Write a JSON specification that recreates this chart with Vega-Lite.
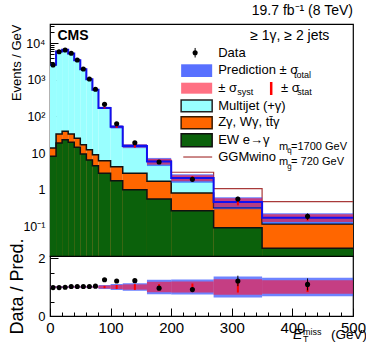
{
"$schema": "https://vega.github.io/schema/vega-lite/v6.json",
"background": "white",
"padding": {"left": 7, "right": 2, "top": 3, "bottom": 2},
"config": {
  "font": "Liberation Sans",
  "view": {"stroke": "black", "strokeWidth": 1.2},
  "axis": {"grid": false, "domain": false, "tickColor": "black", "labelColor": "black", "titleColor": "black", "labelFont": "Liberation Sans", "titleFont": "Liberation Sans", "titleFontWeight": "normal", "labelFlush": false, "labelOverlap": false, "tickWidth": 1},
  "text": {"font": "Liberation Sans", "color": "black"}
},
"datasets": {
  "bins": [
    {"lo":0,"hi":10,"c":5,"data":2550,"dlo":2525,"dhi":2575,"pred":2600,"tlo":2522,"thi":2678,"slo":2548,"shi":2652,"stlo":2574,"sthi":2626,"green":8.2,"orange":13.8,"ggm":2600,"ratio":0.98,"rlo":0.97,"rhi":0.99,"rtlo":0.97,"rthi":1.03,"rslo":0.98,"rshi":1.02,"rstlo":0.99,"rsthi":1.01},
    {"lo":10,"hi":20,"c":15,"data":5900,"dlo":5841,"dhi":5959,"pred":6000,"tlo":5820,"thi":6180,"slo":5880,"shi":6120,"stlo":5940,"sthi":6060,"green":18.9,"orange":33.3,"ggm":6000,"ratio":0.98,"rlo":0.97,"rhi":0.99,"rtlo":0.97,"rthi":1.03,"rslo":0.98,"rshi":1.02,"rstlo":0.99,"rsthi":1.01},
    {"lo":20,"hi":30,"c":25,"data":6570,"dlo":6504,"dhi":6636,"pred":6640,"tlo":6441,"thi":6839,"slo":6507,"shi":6773,"stlo":6574,"sthi":6706,"green":23.2,"orange":39.4,"ggm":6640,"ratio":0.99,"rlo":0.98,"rhi":1.0,"rtlo":0.97,"rthi":1.03,"rslo":0.98,"rshi":1.02,"rstlo":0.99,"rsthi":1.01},
    {"lo":30,"hi":40,"c":35,"data":5330,"dlo":5277,"dhi":5383,"pred":5230,"tlo":5073,"thi":5387,"slo":5125,"shi":5335,"stlo":5178,"sthi":5282,"green":19.7,"orange":33.3,"ggm":5230,"ratio":1.02,"rlo":1.01,"rhi":1.03,"rtlo":0.97,"rthi":1.03,"rslo":0.98,"rshi":1.02,"rstlo":0.99,"rsthi":1.01},
    {"lo":40,"hi":50,"c":45,"data":3500,"dlo":3465,"dhi":3535,"pred":3430,"tlo":3327,"thi":3533,"slo":3361,"shi":3499,"stlo":3396,"sthi":3464,"green":14.4,"orange":25.4,"ggm":3430,"ratio":1.02,"rlo":1.01,"rhi":1.03,"rtlo":0.97,"rthi":1.03,"rslo":0.98,"rshi":1.02,"rstlo":0.99,"rsthi":1.01},
    {"lo":50,"hi":60,"c":55,"data":1985,"dlo":1965,"dhi":2005,"pred":1950,"tlo":1892,"thi":2009,"slo":1911,"shi":1989,"stlo":1931,"sthi":1970,"green":9.4,"orange":17.0,"ggm":1950,"ratio":1.02,"rlo":1.01,"rhi":1.03,"rtlo":0.97,"rthi":1.03,"rslo":0.98,"rshi":1.02,"rstlo":0.99,"rsthi":1.01},
    {"lo":60,"hi":70,"c":65,"data":1060,"dlo":1049,"dhi":1071,"pred":1040,"tlo":1009,"thi":1071,"slo":1019,"shi":1061,"stlo":1030,"sthi":1050,"green":6.5,"orange":12.4,"ggm":1040,"ratio":1.02,"rlo":1.01,"rhi":1.03,"rtlo":0.97,"rthi":1.03,"rslo":0.98,"rshi":1.02,"rstlo":0.99,"rsthi":1.01},
    {"lo":70,"hi":80,"c":75,"data":553,"dlo":547,"dhi":559,"pred":537,"tlo":521,"thi":553,"slo":526,"shi":548,"stlo":532,"sthi":542,"green":4.5,"orange":9.0,"ggm":537,"ratio":1.03,"rlo":1.02,"rhi":1.04,"rtlo":0.97,"rthi":1.03,"rslo":0.98,"rshi":1.02,"rstlo":0.99,"rsthi":1.01},
    {"lo":80,"hi":100,"c":90,"data":215,"dlo":210.7,"dhi":219.3,"pred":172,"tlo":160,"thi":184,"slo":163.4,"shi":180.6,"stlo":165.1,"sthi":178.9,"green":2.8,"orange":6.2,"ggm":172,"ratio":1.25,"rlo":1.225,"rhi":1.275,"rtlo":0.93,"rthi":1.07,"rslo":0.95,"rshi":1.05,"rstlo":0.96,"rsthi":1.04},
    {"lo":100,"hi":120,"c":110,"data":63.5,"dlo":61.6,"dhi":65.4,"pred":52.5,"tlo":47.25,"thi":57.75,"slo":48.8,"shi":56.2,"stlo":48.8,"sthi":56.2,"green":1.76,"orange":4.25,"ggm":52.5,"ratio":1.21,"rlo":1.174,"rhi":1.246,"rtlo":0.9,"rthi":1.1,"rslo":0.93,"rshi":1.07,"rstlo":0.93,"rsthi":1.07},
    {"lo":120,"hi":160,"c":140,"data":19.2,"dlo":18.43,"dhi":19.97,"pred":15.7,"tlo":13.66,"thi":17.74,"slo":14.29,"shi":17.11,"stlo":14.13,"sthi":17.27,"green":1.0,"orange":2.8,"ggm":15.7,"ratio":1.22,"rlo":1.171,"rhi":1.269,"rtlo":0.87,"rthi":1.13,"rslo":0.91,"rshi":1.09,"rstlo":0.9,"rsthi":1.1},
    {"lo":160,"hi":200,"c":180,"data":5.7,"dlo":5.3,"dhi":6.1,"pred":5.9,"tlo":4.43,"thi":7.38,"slo":4.84,"shi":6.96,"stlo":5.31,"sthi":6.49,"green":0.56,"orange":1.7,"ggm":6.3,"ratio":0.96,"rlo":0.893,"rhi":1.027,"rtlo":0.75,"rthi":1.25,"rslo":0.82,"rshi":1.18,"rstlo":0.9,"rsthi":1.1},
    {"lo":200,"hi":270,"c":235,"data":1.92,"dlo":1.747,"dhi":2.093,"pred":2.1,"tlo":1.554,"thi":2.646,"slo":1.701,"shi":2.499,"stlo":1.848,"sthi":2.352,"green":0.267,"orange":0.81,"ggm":3.0,"ratio":0.91,"rlo":0.828,"rhi":0.992,"rtlo":0.74,"rthi":1.26,"rslo":0.81,"rshi":1.19,"rstlo":0.88,"rsthi":1.12},
    {"lo":270,"hi":350,"c":310,"data":0.557,"dlo":0.473,"dhi":0.641,"pred":0.46,"tlo":0.294,"thi":0.626,"slo":0.336,"shi":0.584,"stlo":0.373,"sthi":0.547,"green":0.091,"orange":0.32,"ggm":1.07,"ratio":1.21,"rlo":1.029,"rhi":1.391,"rtlo":0.64,"rthi":1.36,"rslo":0.73,"rshi":1.27,"rstlo":0.81,"rsthi":1.19},
    {"lo":350,"hi":500,"c":425,"data":0.187,"dlo":0.151,"dhi":0.223,"pred":0.172,"tlo":0.117,"thi":0.227,"slo":0.132,"shi":0.212,"stlo":0.143,"sthi":0.201,"green":0.025,"orange":0.116,"ggm":0.47,"ratio":1.09,"rlo":0.883,"rhi":1.297,"rtlo":0.68,"rthi":1.32,"rslo":0.77,"rshi":1.23,"rstlo":0.83,"rsthi":1.17}
  ]
},
"spacing": 0,
"bounds": "flush",
"vconcat": [
{
  "width": 303, "height": 232,
  "title": {"text": "19.7 fb⁻¹ (8 TeV)", "anchor": "end", "fontSize": 14, "fontWeight": "normal", "font": "Liberation Sans", "offset": 2, "color": "black"},
  "layer": [
    {"data": {"name": "bins"}, "mark": {"type": "rect", "fill": "#99ffff", "clip": true},
     "encoding": {
       "x": {"field": "lo", "type": "quantitative", "scale": {"domain": [0, 500], "nice": false, "zero": false},
             "axis": {"values": [0,10,20,30,40,50,60,70,80,90,100,110,120,130,140,150,160,170,180,190,200,210,220,230,240,250,260,270,280,290,300,310,320,330,340,350,360,370,380,390,400,410,420,430,440,450,460,470,480,490,500],
                      "labels": false, "title": null,
                      "tickSize": {"condition": {"test": "datum.value % 100 === 0", "value": -8}, "value": -4}}},
       "x2": {"field": "hi"},
       "y": {"field": "pred", "type": "quantitative", "scale": {"type": "log", "domain": [0.01545, 33650], "nice": false},
             "axis": {"values": [0.02,0.03,0.04,0.05,0.06,0.07,0.08,0.09,0.1,0.2,0.3,0.4,0.5,0.6,0.7,0.8,0.9,1,2,3,4,5,6,7,8,9,10,20,30,40,50,60,70,80,90,100,200,300,400,500,600,700,800,900,1000,2000,3000,4000,5000,6000,7000,8000,9000,10000,20000,30000],
                      "labelExpr": "datum.value === 10000 ? '10⁴' : datum.value === 1000 ? '10³' : datum.value === 100 ? '10²' : datum.value === 10 ? '10' : datum.value === 1 ? '1' : datum.value === 0.1 ? '10⁻¹' : ''",
                      "tickSize": {"condition": {"test": "indexof([0.1,1,10,100,1000,10000], datum.value) >= 0", "value": -8}, "value": -4},
                      "labelFontSize": 12.5, "labelPadding": 13, "labelOverlap": false,
                      "title": "Events / GeV", "titleFontSize": 13, "titleAnchor": "end", "titleX": -30, "titleBaseline": "alphabetic"}},
       "y2": {"datum": 0.001}
     }},
    {"data": {"name": "bins"}, "mark": {"type": "rect", "fill": "#ff6600", "clip": true},
     "encoding": {"x": {"field": "lo", "type": "quantitative"}, "x2": {"field": "hi"}, "y": {"field": "orange", "type": "quantitative"}, "y2": {"datum": 0.001}}},
    {"data": {"name": "bins"}, "mark": {"type": "rect", "fill": "#0b610b", "clip": true},
     "encoding": {"x": {"field": "lo", "type": "quantitative"}, "x2": {"field": "hi"}, "y": {"field": "green", "type": "quantitative"}, "y2": {"datum": 0.001}}},
    {"data": {"name": "bins"}, "transform": [{"fold": ["lo", "hi"], "as": ["edge", "xe"]}],
     "mark": {"type": "line", "color": "#111111", "strokeWidth": 1.5, "clip": true},
     "encoding": {"x": {"field": "xe", "type": "quantitative"}, "y": {"field": "green", "type": "quantitative"}, "order": [{"field": "xe", "type": "quantitative"}, {"field": "edge", "type": "ordinal"}]}},
    {"data": {"name": "bins"}, "transform": [{"fold": ["lo", "hi"], "as": ["edge", "xe"]}],
     "mark": {"type": "line", "color": "#111111", "strokeWidth": 1.5, "clip": true},
     "encoding": {"x": {"field": "xe", "type": "quantitative"}, "y": {"field": "orange", "type": "quantitative"}, "order": [{"field": "xe", "type": "quantitative"}, {"field": "edge", "type": "ordinal"}]}},
    {"data": {"name": "bins"}, "transform": [{"fold": ["lo", "hi"], "as": ["edge", "xe"]}],
     "mark": {"type": "line", "color": "#a83a3a", "strokeWidth": 1.2, "clip": true},
     "encoding": {"x": {"field": "xe", "type": "quantitative"}, "y": {"field": "ggm", "type": "quantitative"}, "order": [{"field": "xe", "type": "quantitative"}, {"field": "edge", "type": "ordinal"}]}},
    {"data": {"name": "bins"}, "mark": {"type": "rect", "fill": "#2040ff", "opacity": 0.65, "clip": true},
     "encoding": {"x": {"field": "lo", "type": "quantitative"}, "x2": {"field": "hi"}, "y": {"field": "tlo", "type": "quantitative"}, "y2": {"field": "thi"}}},
    {"data": {"name": "bins"}, "mark": {"type": "rect", "fill": "#ff1030", "opacity": 0.6, "clip": true},
     "encoding": {"x": {"field": "lo", "type": "quantitative"}, "x2": {"field": "hi"}, "y": {"field": "slo", "type": "quantitative"}, "y2": {"field": "shi"}}},
    {"data": {"name": "bins"}, "transform": [{"fold": ["lo", "hi"], "as": ["edge", "xe"]}],
     "mark": {"type": "line", "color": "#1010f0", "strokeWidth": 2, "clip": true},
     "encoding": {"x": {"field": "xe", "type": "quantitative"}, "y": {"field": "pred", "type": "quantitative"}, "order": [{"field": "xe", "type": "quantitative"}, {"field": "edge", "type": "ordinal"}]}},
    {"data": {"name": "bins"}, "mark": {"type": "rule", "color": "#ff0000", "strokeWidth": 2},
     "encoding": {"x": {"field": "c", "type": "quantitative"}, "y": {"field": "stlo", "type": "quantitative"}, "y2": {"field": "sthi"}}},
    {"data": {"name": "bins"}, "mark": {"type": "rule", "color": "black", "strokeWidth": 1},
     "encoding": {"x": {"field": "c", "type": "quantitative"}, "y": {"field": "dlo", "type": "quantitative"}, "y2": {"field": "dhi"}}},
    {"data": {"name": "bins"}, "mark": {"type": "circle", "size": 26, "color": "black", "opacity": 1},
     "encoding": {"x": {"field": "c", "type": "quantitative"}, "y": {"field": "data", "type": "quantitative"}}},

    {"data": {"values": [{}]}, "mark": {"type": "text", "text": "CMS", "fontWeight": "bold", "fontSize": 14, "align": "left", "baseline": "middle"},
     "encoding": {"x": {"datum": 12.2}, "y": {"datum": 15500}}},
    {"data": {"values": [{}]}, "mark": {"type": "text", "text": "≥ 1γ, ≥ 2 jets", "fontSize": 14, "align": "right", "baseline": "middle"},
     "encoding": {"x": {"datum": 461}, "y": {"datum": 15500}}},

    {"data": {"values": [{}]}, "mark": {"type": "rule", "color": "black", "strokeWidth": 1},
     "encoding": {"x": {"datum": 239.5}, "y": {"datum": 7450}, "y2": {"datum": 4090}}},
    {"data": {"values": [{}]}, "mark": {"type": "circle", "size": 26, "color": "black", "opacity": 1},
     "encoding": {"x": {"datum": 239.5}, "y": {"datum": 5530}}},
    {"data": {"values": [{}]}, "mark": {"type": "text", "text": "Data", "fontSize": 13, "align": "left", "baseline": "middle"},
     "encoding": {"x": {"datum": 277.5}, "y": {"datum": 5530}}},

    {"data": {"values": [{}]}, "mark": {"type": "rect", "fill": "#2040ff", "opacity": 0.75},
     "encoding": {"x": {"datum": 216.4}, "x2": {"datum": 267.6}, "y": {"datum": 2668}, "y2": {"datum": 1200}}},
    {"data": {"values": [{}]}, "mark": {"type": "text", "text": "Prediction ± σ", "fontSize": 13, "align": "left", "baseline": "middle"},
     "encoding": {"x": {"datum": 277.5}, "y": {"datum": 1863}}},
    {"data": {"values": [{}]}, "mark": {"type": "text", "text": "total", "fontSize": 9, "align": "left", "baseline": "middle"},
     "encoding": {"x": {"datum": 402.7}, "y": {"datum": 1361}}},

    {"data": {"values": [{}]}, "mark": {"type": "rect", "fill": "#ff1030", "opacity": 0.6},
     "encoding": {"x": {"datum": 216.4}, "x2": {"datum": 267.6}, "y": {"datum": 838}, "y2": {"datum": 420}}},
    {"data": {"values": [{}]}, "mark": {"type": "text", "text": "± σ", "fontSize": 13, "align": "left", "baseline": "middle"},
     "encoding": {"x": {"datum": 277.5}, "y": {"datum": 582}}},
    {"data": {"values": [{}]}, "mark": {"type": "text", "text": "syst", "fontSize": 9, "align": "left", "baseline": "middle"},
     "encoding": {"x": {"datum": 309}, "y": {"datum": 458}}},
    {"data": {"values": [{}]}, "mark": {"type": "rule", "color": "#ff0000", "strokeWidth": 2.5},
     "encoding": {"x": {"datum": 365}, "y": {"datum": 876}, "y2": {"datum": 387}}},
    {"data": {"values": [{}]}, "mark": {"type": "text", "text": "± σ", "fontSize": 13, "align": "left", "baseline": "middle"},
     "encoding": {"x": {"datum": 381.3}, "y": {"datum": 582}}},
    {"data": {"values": [{}]}, "mark": {"type": "text", "text": "stat", "fontSize": 9, "align": "left", "baseline": "middle"},
     "encoding": {"x": {"datum": 408}, "y": {"datum": 458}}},

    {"data": {"values": [{}]}, "mark": {"type": "rect", "fill": "#99ffff", "stroke": "#222222", "strokeWidth": 1.5},
     "encoding": {"x": {"datum": 216.4}, "x2": {"datum": 267.6}, "y": {"datum": 282}, "y2": {"datum": 135}}},
    {"data": {"values": [{}]}, "mark": {"type": "text", "text": "Multijet (+γ)", "fontSize": 13, "align": "left", "baseline": "middle"},
     "encoding": {"x": {"datum": 277.5}, "y": {"datum": 193.6}}},
    {"data": {"values": [{}]}, "mark": {"type": "rect", "fill": "#ff6600", "stroke": "#3a1a00", "strokeWidth": 1.5},
     "encoding": {"x": {"datum": 216.4}, "x2": {"datum": 267.6}, "y": {"datum": 98.8}, "y2": {"datum": 46.4}}},
    {"data": {"values": [{}]}, "mark": {"type": "text", "text": "Zγ, Wγ, tt̄γ", "fontSize": 13, "align": "left", "baseline": "middle"},
     "encoding": {"x": {"datum": 277.5}, "y": {"datum": 68.6}}},
    {"data": {"values": [{}]}, "mark": {"type": "rect", "fill": "#0b610b", "stroke": "#111111", "strokeWidth": 1.5},
     "encoding": {"x": {"datum": 216.4}, "x2": {"datum": 267.6}, "y": {"datum": 33.9}, "y2": {"datum": 15.0}}},
    {"data": {"values": [{}]}, "mark": {"type": "text", "text": "EW e→γ", "fontSize": 13, "align": "left", "baseline": "middle"},
     "encoding": {"x": {"datum": 277.5}, "y": {"datum": 22.5}}},
    {"data": {"values": [{}]}, "mark": {"type": "rule", "color": "#a83a3a", "strokeWidth": 1.2},
     "encoding": {"x": {"datum": 219.9}, "x2": {"datum": 267.6}, "y": {"datum": 7.82}}},
    {"data": {"values": [{}]}, "mark": {"type": "text", "text": "GGMwino", "fontSize": 13, "align": "left", "baseline": "middle"},
     "encoding": {"x": {"datum": 277.5}, "y": {"datum": 7.82}}},
    {"data": {"values": [{}]}, "mark": {"type": "text", "text": "m", "fontSize": 11, "align": "left", "baseline": "middle"},
     "encoding": {"x": {"datum": 378}, "y": {"datum": 14.4}}},
    {"data": {"values": [{}]}, "mark": {"type": "text", "text": "q̃", "fontSize": 8, "align": "left", "baseline": "middle"},
     "encoding": {"x": {"datum": 391.7}, "y": {"datum": 11.4}}},
    {"data": {"values": [{}]}, "mark": {"type": "text", "text": "=1700 GeV", "fontSize": 11, "align": "left", "baseline": "middle"},
     "encoding": {"x": {"datum": 397.8}, "y": {"datum": 14.4}}},
    {"data": {"values": [{}]}, "mark": {"type": "text", "text": "m", "fontSize": 11, "align": "left", "baseline": "middle"},
     "encoding": {"x": {"datum": 378}, "y": {"datum": 5.89}}},
    {"data": {"values": [{}]}, "mark": {"type": "text", "text": "g̃", "fontSize": 8, "align": "left", "baseline": "middle"},
     "encoding": {"x": {"datum": 391.7}, "y": {"datum": 4.17}}},
    {"data": {"values": [{}]}, "mark": {"type": "text", "text": "= 720 GeV", "fontSize": 11, "align": "left", "baseline": "middle"},
     "encoding": {"x": {"datum": 397.8}, "y": {"datum": 5.89}}}
  ]
},
{
  "width": 303, "height": 60,
  "resolve": {"axis": {"x": "independent", "y": "independent"}},
  "layer": [
    {"data": {"name": "bins"}, "mark": {"type": "rect", "fill": "#2040ff", "opacity": 0.65, "clip": true},
     "encoding": {
       "x": {"field": "lo", "type": "quantitative", "scale": {"domain": [0, 500], "nice": false, "zero": false},
             "axis": {"orient": "bottom", "values": [0,100,200,300,400,500], "format": "d",
                      "tickSize": -8,
                      "labelFontSize": 15, "labelPadding": 12, "labelOverlap": false, "title": null}},
       "x2": {"field": "hi"},
       "y": {"field": "rtlo", "type": "quantitative", "scale": {"domain": [0, 2.07], "nice": false, "zero": false},
             "axis": {"orient": "left", "values": [0, 1, 2], "format": "d",
                      "tickSize": -8,
                      "labelFontSize": 13, "labelPadding": 13, "labelOverlap": false,
                      "title": "Data / Pred.", "titleFontSize": 18, "titleX": -28, "titleBaseline": "alphabetic"}},
       "y2": {"field": "rthi"}
     }},
    {"data": {"name": "bins"}, "mark": {"type": "rect", "fill": "#ff1030", "opacity": 0.6, "clip": true},
     "encoding": {
       "x": {"field": "lo", "type": "quantitative",
             "axis": {"orient": "bottom", "values": [20,40,60,80,120,140,160,180,220,240,260,280,320,340,360,380,420,440,460,480],
                      "tickSize": -4, "labels": false, "title": null}},
       "x2": {"field": "hi"},
       "y": {"field": "rslo", "type": "quantitative",
             "axis": {"orient": "left", "values": [0.5, 1.5], "tickSize": -4, "labels": false, "title": null}},
       "y2": {"field": "rshi"}}},
    {"data": {"name": "bins"}, "mark": {"type": "rule", "color": "#ff0000", "strokeWidth": 2},
     "encoding": {"x": {"field": "c", "type": "quantitative", "axis": null}, "y": {"field": "rstlo", "type": "quantitative", "axis": null}, "y2": {"field": "rsthi"}}},
    {"data": {"name": "bins"}, "mark": {"type": "rule", "color": "black", "strokeWidth": 1},
     "encoding": {"x": {"field": "c", "type": "quantitative", "axis": null}, "y": {"field": "rlo", "type": "quantitative", "axis": null}, "y2": {"field": "rhi"}}},
    {"data": {"name": "bins"}, "mark": {"type": "circle", "size": 26, "color": "black", "opacity": 1},
     "encoding": {"x": {"field": "c", "type": "quantitative", "axis": null}, "y": {"field": "ratio", "type": "quantitative", "axis": null}}},
    {"data": {"values": [{}]}, "mark": {"type": "text", "text": "E", "fontSize": 14, "fontStyle": "italic", "align": "left", "baseline": "middle"},
     "encoding": {"x": {"datum": 401, "axis": null}, "y": {"datum": -0.669, "axis": null}}},
    {"data": {"values": [{}]}, "mark": {"type": "text", "text": "miss", "fontSize": 9, "align": "left", "baseline": "middle"},
     "encoding": {"x": {"datum": 417.6, "axis": null}, "y": {"datum": -0.54, "axis": null}}},
    {"data": {"values": [{}]}, "mark": {"type": "text", "text": "T", "fontSize": 9, "align": "left", "baseline": "middle"},
     "encoding": {"x": {"datum": 417.6, "axis": null}, "y": {"datum": -0.79, "axis": null}}},
    {"data": {"values": [{}]}, "mark": {"type": "text", "text": "(GeV)", "fontSize": 13.5, "align": "left", "baseline": "middle"},
     "encoding": {"x": {"datum": 463.7, "axis": null}, "y": {"datum": -0.669, "axis": null}}}
  ]
}
]
}
